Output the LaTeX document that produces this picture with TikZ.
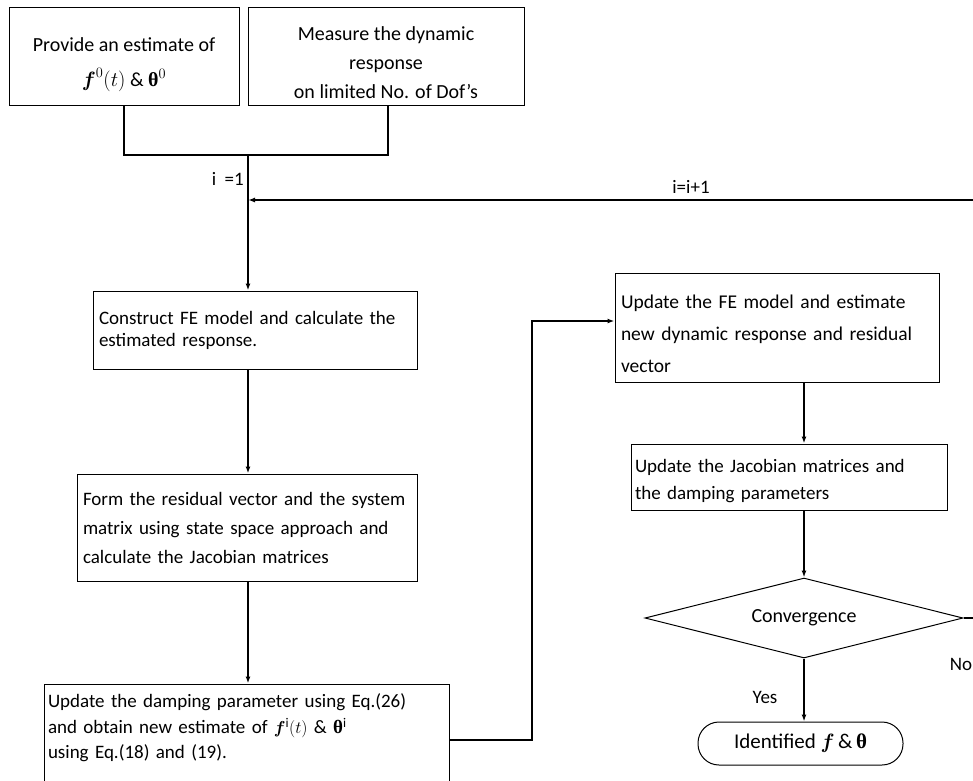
\documentclass[tikz,border=0pt]{standalone}
\usepackage{amsmath}
\usepackage{fontspec}
\setmainfont{Carlito}
\newfontfamily\symfont{Liberation Serif}
\usepackage{tikz}
\usetikzlibrary{positioning}
\usetikzlibrary{shapes.geometric}
\usetikzlibrary{arrows.meta}
\newcommand{\bth}{{\symfont\bfseries θ}}
\newcommand{\fsz}[2]{\fontsize{#1}{#2}\selectfont}
\newcommand{\uplift}[1]{\rule{0pt}{#1}}% taller first line
\newcommand{\downlift}[1]{\rule[-#1]{0pt}{0pt}}% deeper last line

\begin{document}
\begin{tikzpicture}[x=1pt,y=-1pt,
	stepbox/.style={draw, line width=1pt, rectangle, inner sep=6pt, align=left},
	link/.style={line width=1.5pt, -{Latex[length=7pt,width=5pt]}},
	plain/.style={line width=1.5pt}]
	\useasboundingbox (0,0) rectangle (973,780);
	% top boxes
	\node[stepbox, align=center, minimum width=230pt, minimum height=98pt, font=\fsz{20}{35}] (est) at (124,56)
		{\uplift{31pt}Provide an estimate of\\ $\boldsymbol{f}^{0}(t)$ \& \bth$^{0}$};%A
	\node[stepbox, align=center, minimum width=276pt, minimum height=98pt, font=\fsz{20}{29}] (meas) at (386,56)
		{\uplift{27pt}Measure the dynamic\\ response\\ on limited No. of Dof's};%B
	% left column
	\node[stepbox, text width=312pt, minimum height=78pt, font=\fsz{19}{22}] (fem) at (255,330)
		{Construct FE model and calculate the\\ estimated response.};%C
	\node[stepbox, text width=328pt, minimum height=107pt, font=\fsz{19}{29}] (res) at (247,527.5)
		{Form the residual vector and the system\\ matrix using state space approach and\\ calculate the Jacobian matrices};%D
	\node[stepbox, inner sep=4pt, text width=397pt, minimum height=106pt, font=\fsz{19}{25.5}] (upd) at (246.5,737)
		{Update the damping parameter using Eq.(26)\\ and obtain new estimate of $\boldsymbol{f}^{\mathrm{i}}(t)$ \& \bth$^{\mathrm{i}}$\\ using Eq.(18) and (19).\downlift{21pt}};%E
	% right column
	\node[stepbox, text width=312pt, minimum height=109pt, font=\fsz{19.5}{32}] (fe) at (777,327.5)
		{\uplift{27pt}Update the FE model and estimate\\ new dynamic response and residual\\ vector};%F
	\node[stepbox, inner sep=4pt, text width=308pt, minimum height=66pt, font=\fsz{19}{27}] (jac) at (789,477)
		{\uplift{22pt}Update the Jacobian matrices and\\ the damping parameters};%G
	\node[draw, line width=1pt, diamond, aspect=4, inner sep=0pt, minimum width=318pt, minimum height=80pt, font=\fsz{20}{24}] (conv) at (804,618)
		{Convergence};%H
	\node[draw, line width=1pt, rounded corners=21pt, minimum width=205pt, minimum height=43pt, font=\fsz{21}{25}] (ident) at (800.5,743.5)
		{Identified $\boldsymbol{f}$\,\&\,\bth};%I
	% labels
	\node[font=\fsz{19}{22}, anchor=east, inner sep=1pt] (one) at (245,179) {i~~=1};
	\node[font=\fsz{19}{22}] (incr) at (691,187) {i=i+1};
	\node[font=\fsz{19}{22}] (yes) at (765,697) {Yes};
	\node[font=\fsz{19}{22}] (no) at (961,664) {No};
	\coordinate (join) at (248,155);
	\coordinate (loop) at (248,200);
	\coordinate (turn) at (532,321);
	% connectors
	\draw[plain] (est.south) -- (est.south |- join) -- (388,155) -- (388,105);
	\draw[link] (join) -- (join |- fem.north);
	\draw[link] (fem.south -| join) -- (join |- res.north);
	\draw[link] (res.south -| join) -- (join |- upd.north);
	\draw[link] (upd.east |- 0,740) -| (turn) -- (turn -| fe.west);
	\draw[link] (fe.south -| conv) -- (conv |- jac.north);
	\draw[link] (jac.south -| conv) -- (conv.north);
	\draw[link] (conv.south) -- (conv.south |- ident.north);
	\draw[link, line width=1.8pt] (conv.east) -- ++(25,0) |- (loop);
\end{tikzpicture}
\end{document}
